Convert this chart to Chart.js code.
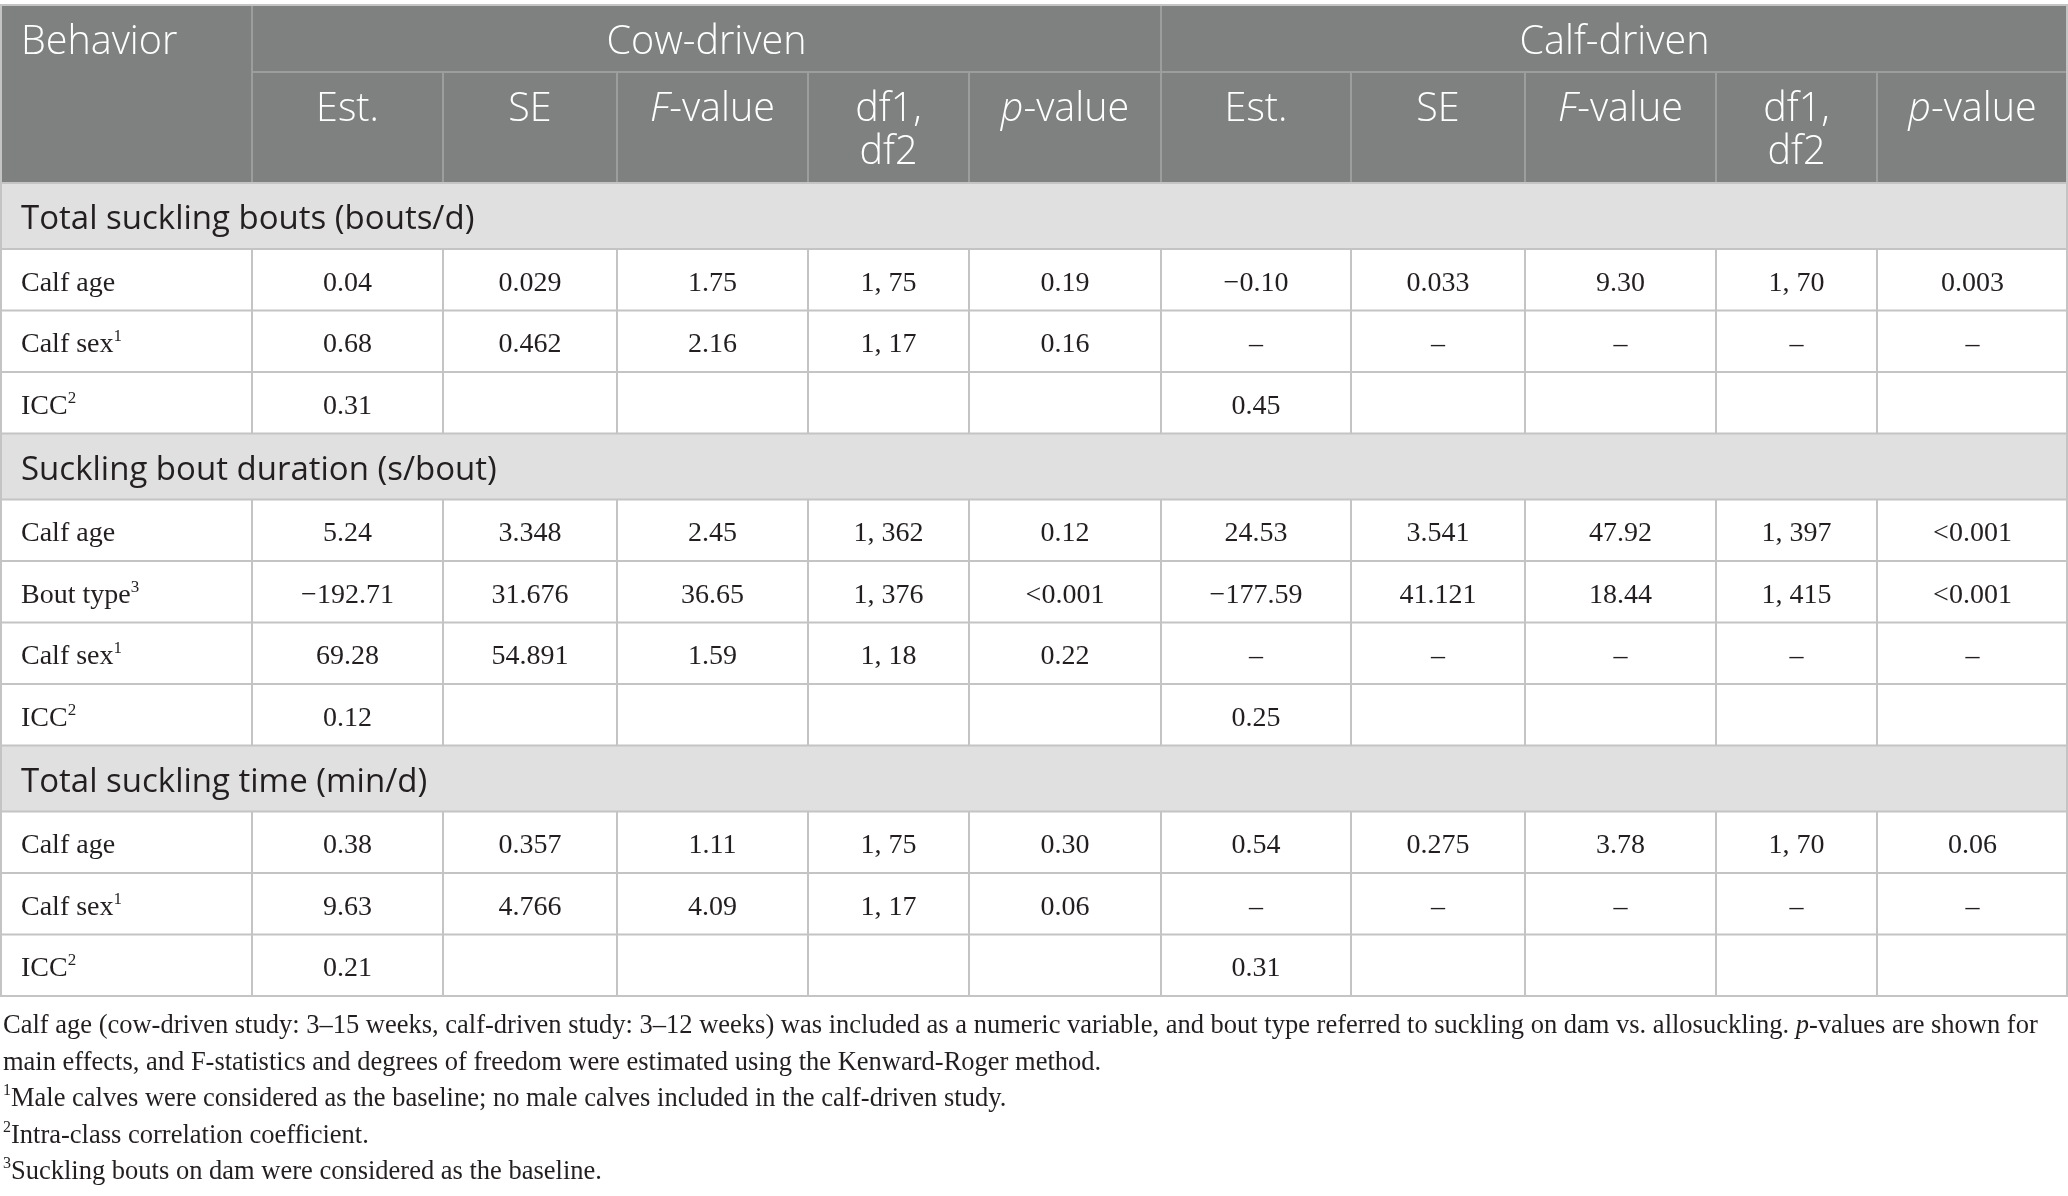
<!DOCTYPE html>
<html>
<head>
<meta charset="utf-8">
<script src="https://cdn.jsdelivr.net/npm/chart.js@4.4.1/dist/chart.umd.min.js"></script>
<style>
  html, body { margin: 0; padding: 0; background: #ffffff; }
  #wrap { width: 2068px; height: 1196px; }
</style>
</head>
<body>
<div id="wrap"><canvas id="tabela"></canvas></div>
<script>
// _x_ = italic, ^n = superscript
var studies = ['Cow-driven', 'Calf-driven'];
var statHeaders = ['Est.', 'SE', '_F_-value', 'df1,\ndf2', '_p_-value'];
var firstHeader = 'Behavior';

var sections = [
  'Total suckling bouts (bouts/d)',
  'Suckling bout duration (s/bout)',
  'Total suckling time (min/d)'
];

var rowLabels = [
  ['Calf age', 'Calf sex^1', 'ICC^2'],
  ['Calf age', 'Bout type^3', 'Calf sex^1', 'ICC^2'],
  ['Calf age', 'Calf sex^1', 'ICC^2']
];

// Est., SE, F-value, df1 df2, p-value
var cowDriven = [
  [['0.04', '0.029', '1.75', '1, 75', '0.19'],
   ['0.68', '0.462', '2.16', '1, 17', '0.16'],
   ['0.31', '', '', '', '']],
  [['5.24', '3.348', '2.45', '1, 362', '0.12'],
   ['\u2212192.71', '31.676', '36.65', '1, 376', '<0.001'],
   ['69.28', '54.891', '1.59', '1, 18', '0.22'],
   ['0.12', '', '', '', '']],
  [['0.38', '0.357', '1.11', '1, 75', '0.30'],
   ['9.63', '4.766', '4.09', '1, 17', '0.06'],
   ['0.21', '', '', '', '']]
];

var calfDriven = [
  [['\u22120.10', '0.033', '9.30', '1, 70', '0.003'],
   ['\u2013', '\u2013', '\u2013', '\u2013', '\u2013'],
   ['0.45', '', '', '', '']],
  [['24.53', '3.541', '47.92', '1, 397', '<0.001'],
   ['\u2212177.59', '41.121', '18.44', '1, 415', '<0.001'],
   ['\u2013', '\u2013', '\u2013', '\u2013', '\u2013'],
   ['0.25', '', '', '', '']],
  [['0.54', '0.275', '3.78', '1, 70', '0.06'],
   ['\u2013', '\u2013', '\u2013', '\u2013', '\u2013'],
   ['0.31', '', '', '', '']]
];

var footnotes = [
  'Calf age (cow-driven study: 3\u201315 weeks, calf-driven study: 3\u201312 weeks) was included as a numeric variable, and bout type referred to suckling on dam vs. allosuckling. _p_-values are shown for',
  'main effects, and F-statistics and degrees of freedom were estimated using the Kenward-Roger method.',
  '^1Male calves were considered as the baseline; no male calves included in the calf-driven study.',
  '^2Intra-class correlation coefficient.',
  '^3Suckling bouts on dam were considered as the baseline.'
];

// layout (scale units)
var colWidths = [252, 191, 174, 191, 161, 192, 190, 174, 191, 161, 191];
var tableTop = 4, head1H = 68, head2H = 111, sectionH = 66, rowH = 61.5;
var noteTop = 1033, noteStep = 36.5;
var pageW = 2068, pageH = 1196;

var headFill = '#7f8180', headLine = '#9c9d9c', sectionFill = '#e1e0e1';
var gridLine = '#c4c4c4', inkColor = '#231f20';
var sansFamily = '"Open Sans", "Noto Sans", sans-serif';
var serifFamily = '"Liberation Serif", "DejaVu Serif", serif';
var headSize = 39.5, sectionSize = 33, cellSize = 28, noteSize = 26.5;

function pieces(str) {
  var out = [], re = /_([^_]+)_|\^(\d+)/g, last = 0, m;
  while ((m = re.exec(str))) {
    if (m.index > last) out.push({ t: str.slice(last, m.index), k: 'n' });
    if (m[1]) out.push({ t: m[1], k: 'i' }); else out.push({ t: m[2], k: 's' });
    last = re.lastIndex;
  }
  if (last < str.length) out.push({ t: str.slice(last), k: 'n' });
  return out;
}

function drawRich(ctx, str, x, y, size, family, weight, align) {
  var parts = pieces(str);
  var fontFor = function (p) {
    if (p.k === 's') return weight + ' ' + Math.round(size * 0.6) + 'px ' + family;
    if (p.k === 'i') return 'italic ' + weight + ' ' + size + 'px ' + family;
    return weight + ' ' + size + 'px ' + family;
  };
  var total = 0;
  parts.forEach(function (p) { ctx.font = fontFor(p); p.w = ctx.measureText(p.t).width; total += p.w; });
  var cx = align === 'center' ? x - total / 2 : x;
  ctx.textAlign = 'left';
  ctx.textBaseline = 'alphabetic';
  parts.forEach(function (p) {
    ctx.font = fontFor(p);
    ctx.fillText(p.t, cx, p.k === 's' ? y - size * 0.4 : y);
    cx += p.w;
  });
}

var tablePlugin = {
  id: 'tabela',
  afterDraw: function (chart) {
    var ctx = chart.ctx, sx = chart.scales.x, sy = chart.scales.y;
    var px = function (v) { return sx.getPixelForValue(v); };
    var py = function (v) { return sy.getPixelForValue(v); };

    var edges = [0];
    colWidths.forEach(function (w, i) { edges.push(edges[i] + w); });
    var nStat = statHeaders.length;
    var right = edges[edges.length - 1];

    // row list
    var rows = [];
    var yy = tableTop + head1H + head2H;
    sections.forEach(function (title, s) {
      rows.push({ kind: 'section', text: title, top: yy, bot: yy + sectionH });
      yy += sectionH;
      rowLabels[s].forEach(function (lab, r) {
        rows.push({ kind: 'data', label: lab, vals: cowDriven[s][r].concat(calfDriven[s][r]), top: yy, bot: yy + rowH });
        yy += rowH;
      });
    });
    var tableBot = yy;

    ctx.save();
    // header block
    var hTop = tableTop, hMid = tableTop + head1H, hBot = tableTop + head1H + head2H;
    ctx.fillStyle = headFill;
    ctx.fillRect(px(0), py(hTop), px(right) - px(0), py(hBot) - py(hTop));

    ctx.strokeStyle = headLine;
    ctx.lineWidth = 2;
    ctx.beginPath();
    ctx.moveTo(px(edges[1]), py(hMid)); ctx.lineTo(px(right), py(hMid));
    for (var c = 1; c < edges.length - 1; c++) {
      var full = (c === 1 || c === 1 + nStat);
      ctx.moveTo(px(edges[c]), py(full ? hTop : hMid));
      ctx.lineTo(px(edges[c]), py(hBot));
    }
    ctx.stroke();

    // body rows
    rows.forEach(function (r) {
      if (r.kind === 'section') {
        ctx.fillStyle = sectionFill;
        ctx.fillRect(px(0), py(r.top), px(right) - px(0), py(r.bot) - py(r.top));
      }
    });

    ctx.strokeStyle = gridLine;
    ctx.lineWidth = 2;
    ctx.beginPath();
    ctx.rect(px(0) + 1, py(hTop) + 1, px(right) - px(0) - 2, py(tableBot) - py(hTop) - 1);
    rows.forEach(function (r) {
      ctx.moveTo(px(0), py(r.bot)); ctx.lineTo(px(right), py(r.bot));
      if (r.kind === 'data') {
        for (var c = 1; c < edges.length - 1; c++) {
          ctx.moveTo(px(edges[c]), py(r.top)); ctx.lineTo(px(edges[c]), py(r.bot));
        }
      }
    });
    ctx.moveTo(px(0), py(hBot)); ctx.lineTo(px(right), py(hBot));
    ctx.stroke();

    // header text
    ctx.fillStyle = '#ffffff';
    drawRich(ctx, firstHeader, px(21), py(hTop + 50), headSize, sansFamily, 300, 'left');
    studies.forEach(function (name, g) {
      var a = edges[1 + g * nStat], b = edges[1 + (g + 1) * nStat];
      drawRich(ctx, name, px((a + b) / 2), py(hTop + 50), headSize, sansFamily, 300, 'center');
      statHeaders.forEach(function (h, k) {
        var c = 1 + g * nStat + k;
        var mid = (edges[c] + edges[c + 1]) / 2;
        h.split('\n').forEach(function (line, li) {
          drawRich(ctx, line, px(mid), py(hMid + 49 + li * 43), headSize, sansFamily, 300, 'center');
        });
      });
    });

    // body text
    ctx.fillStyle = inkColor;
    rows.forEach(function (r) {
      if (r.kind === 'section') {
        drawRich(ctx, r.text, px(21), py(r.top + 46), sectionSize, sansFamily, 400, 'left');
      } else {
        var base = (r.top + r.bot) / 2 + 11;
        drawRich(ctx, r.label, px(21), py(base), cellSize, serifFamily, 400, 'left');
        r.vals.forEach(function (v, k) {
          if (!v) return;
          var mid = (edges[k + 1] + edges[k + 2]) / 2;
          drawRich(ctx, v, px(mid), py(base), cellSize, serifFamily, 400, 'center');
        });
      }
    });

    // notes
    footnotes.forEach(function (n, i) {
      drawRich(ctx, n, px(3), py(noteTop + i * noteStep), noteSize, serifFamily, 400, 'left');
    });
    ctx.restore();
  }
};

new Chart(document.getElementById('tabela'), {
  type: 'scatter',
  data: { datasets: [] },
  options: {
    responsive: true,
    maintainAspectRatio: false,
    animation: false,
    devicePixelRatio: 1,
    layout: { padding: 0 },
    plugins: { legend: { display: false }, tooltip: { enabled: false } },
    scales: {
      x: { type: 'linear', display: false, min: 0, max: pageW },
      y: { type: 'linear', display: false, min: 0, max: pageH, reverse: true }
    }
  },
  plugins: [tablePlugin]
});
</script>
</body>
</html>
